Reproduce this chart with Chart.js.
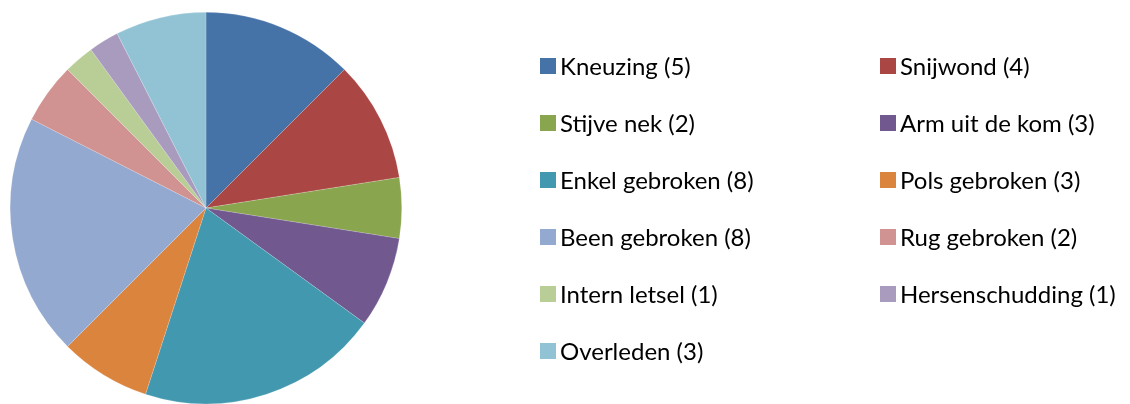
<!DOCTYPE html>
<html>
<head>
<meta charset="utf-8">
<script src="https://cdn.jsdelivr.net/npm/chart.js@4/dist/chart.umd.min.js"></script>
<style>
  html, body { margin: 0; padding: 0; background: #fff; }
  #wrap { width: 1130px; height: 404px; }
</style>
</head>
<body>
<div id="wrap"><canvas id="letselChart"></canvas></div>
<script>
var categories = ["Kneuzing", "Snijwond", "Stijve nek", "Arm uit de kom", "Enkel gebroken",
                  "Pols gebroken", "Been gebroken", "Rug gebroken", "Intern letsel",
                  "Hersenschudding", "Overleden"];
var counts = [5, 4, 2, 3, 8, 3, 8, 2, 1, 1, 3];
var colors = ['#4572A7', '#AA4643', '#89A54E', '#71588F', '#4198AF', '#DB843D',
              '#93A9CF', '#D19392', '#B9CD96', '#A99BBD', '#92C3D4'];

var labels = categories.map(function(c, i){ return c + ' (' + counts[i] + ')'; });

// legend in two columns, row by row, like the original
var gridLegend = {
    id: 'gridLegend',
    afterDraw: function(chart){
        var ctx = chart.ctx;
        var colX = [540, 880];
        var rowY = 66, rowStep = 57;
        ctx.save();
        ctx.font = '24px Lato';
        ctx.textBaseline = 'middle';
        ctx.textAlign = 'left';
        chart.data.labels.forEach(function(lbl, i){
            var x = colX[i % 2];
            var y = rowY + Math.floor(i / 2) * rowStep;
            ctx.fillStyle = chart.data.datasets[0].backgroundColor[i];
            ctx.fillRect(x, y - 8, 16, 16);
            ctx.fillStyle = '#000';
            ctx.fillText(lbl, x + 20, y + 1);
        });
        ctx.restore();
    }
};

var letselChart = new Chart(document.getElementById('letselChart'), {
    type: 'pie',
    data: {
        labels: labels,
        datasets: [{
            data: counts,
            backgroundColor: colors,
            borderColor: 'rgba(255,255,255,0.35)',
            borderWidth: 0.5
        }]
    },
    options: {
        responsive: true,
        maintainAspectRatio: false,
        animation: false,
        layout: { padding: { left: 10, right: 728, top: 12, bottom: 0 } },
        plugins: {
            legend: { display: false },
            tooltip: { enabled: false }
        }
    },
    plugins: [gridLegend]
});
</script>
</body>
</html>
